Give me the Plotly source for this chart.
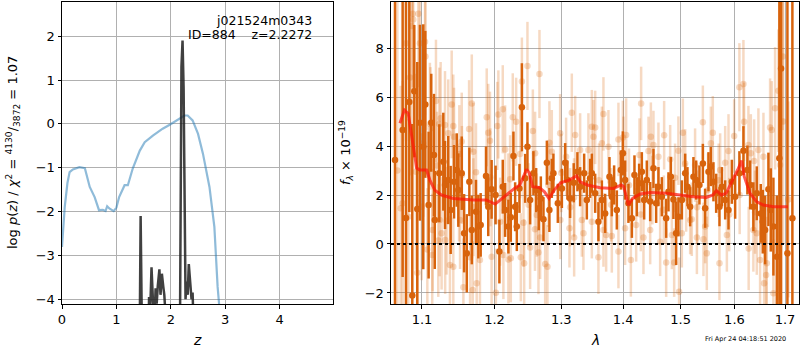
import plotly.graph_objects as go

# ---------------- left panel: p(z) ----------------
Z_BLUE = [0.00, 0.05, 0.10, 0.14, 0.20, 0.32, 0.42, 0.51, 0.60, 0.65,
          0.68, 0.75, 0.80, 0.83, 0.87, 0.95, 1.00, 1.05, 1.15, 1.21,
          1.30, 1.43, 1.52, 1.67, 1.76, 1.85, 1.98, 2.10, 2.25, 2.31,
          2.40, 2.50, 2.59, 2.71, 2.80, 2.86, 2.89, 2.92]
LOGP_BLUE = [-2.81, -1.90, -1.35, -1.10, -1.04, -0.99, -1.01, -1.44, -1.67, -1.86,
             -1.97, -1.96, -1.99, -1.88, -1.93, -1.99, -1.91, -1.67, -1.40, -1.40,
             -1.02, -0.61, -0.42, -0.27, -0.19, -0.11, -0.02, 0.08, 0.19, 0.19,
             0.08, -0.23, -0.68, -1.44, -2.35, -3.72, -4.10, -4.60]

Z_DARK = [1.40, 1.43, 1.445, 1.46, 1.48, 1.57, 1.59, 1.60, 1.62, 1.645,
          1.67, 1.70, 1.72, 1.74, 1.76, 1.79, 1.81, 1.835, 1.86, 1.88,
          1.90, 1.94, 2.15, 2.17, 2.195, 2.215, 2.235, 2.255, 2.27, 2.29,
          2.31, 2.33, 2.36, 2.38, 2.40, 2.42, 2.45]
LOGP_DARK = [-6.0, -4.5, -2.10, -4.5, -6.0, -6.0, -4.0, -3.95, -4.3, -3.27,
             -4.0, -4.5, -3.75, -4.1, -3.7, -3.32, -3.9, -3.42, -3.7, -3.9,
             -4.3, -6.0, -6.0, -4.2, 1.30, 1.90, 0.80, -3.5, -4.0, -3.6,
             -3.9, -3.20, -3.7, -4.0, -3.85, -4.3, -6.0]

Z_TICKS = [0, 1, 2, 3, 4]
LOGP_TICKS = [-4, -3, -2, -1, 0, 1, 2]

# ---------------- right panel: spectrum ----------------
DARK_WAVE = [1.0650, 1.0748, 1.0791, 1.0834, 1.0873, 1.0899, 1.0938, 1.0973, 1.1017, 1.1044,
             1.1088, 1.1123, 1.1159, 1.1170, 1.1231, 1.1285, 1.1308, 1.1352, 1.1385, 1.1431,
             1.1468, 1.1490, 1.1537, 1.1570, 1.1607, 1.1643, 1.1677, 1.1736, 1.1769, 1.1802,
             1.1878, 1.1910, 1.1958, 1.2015, 1.2070, 1.2119, 1.2153, 1.2201, 1.2236, 1.2275,
             1.2300, 1.2325, 1.2364, 1.2400, 1.2449, 1.2483, 1.2523, 1.2573, 1.2614, 1.2654,
             1.2685, 1.2725, 1.2777, 1.2816, 1.2853, 1.2878, 1.2946, 1.3009, 1.3060, 1.3096,
             1.3138, 1.3195, 1.3254, 1.3297, 1.3361, 1.3404, 1.3457, 1.3485, 1.3539, 1.3592,
             1.3648, 1.3702, 1.3773, 1.3812, 1.3850, 1.3895, 1.3962, 1.3996, 1.4034, 1.4090,
             1.4148, 1.4192, 1.4233, 1.4272, 1.4318, 1.4358, 1.4404, 1.4462, 1.4519, 1.4566,
             1.4606, 1.4666, 1.4742, 1.4783, 1.4825, 1.4871, 1.4919, 1.4960, 1.5022, 1.5082,
             1.5123, 1.5172, 1.5232, 1.5282, 1.5342, 1.5405, 1.5447, 1.5509, 1.5553, 1.5602,
             1.5653, 1.5715, 1.5761, 1.5823, 1.5886, 1.5950, 1.6013, 1.6095, 1.6173, 1.6250,
             1.6303, 1.6367, 1.6434, 1.6513, 1.6553, 1.6599, 1.6665, 1.6712, 1.6765, 1.6834,
             1.6885, 1.6920, 1.7049, 1.7151]
DARK_FLUX = [3.43, 4.65, 1.06, 5.80, -2.10, 6.24, 1.43, 4.95, 3.97, 5.70,
             1.59, 4.95, 3.63, 0.98, 2.89, 3.36, 2.41, 2.61, 1.39, 2.54,
             3.02, 2.20, 2.89, 0.44, -0.38, 2.54, 0.57, 1.32, 0.71, 0.78,
             2.78, 1.52, 2.23, 2.00, -0.31, 2.34, 1.39, 0.71, 1.09, 3.59,
             1.52, 0.71, 2.27, 5.58, 2.68, 3.97, 1.80, 2.89, 2.20, 1.46,
             1.86, 1.01, 3.32, 1.39, 2.68, 2.89, 1.66, 2.27, 3.32, 2.61,
             1.86, 2.50, 2.95, 2.34, 2.89, 1.80, 2.68, 2.89, 2.07, 0.91,
             1.80, 1.25, 2.75, 1.93, 2.41, 1.39, 3.02, 3.70, 2.61, 1.66,
             1.05, 2.82, 1.93, 2.48, 2.95, 1.80, 2.61, 1.73, 3.09, 1.66,
             2.34, 1.93, 1.05, 2.13, 2.75, 1.82, 0.44, 1.11, 1.80, 2.89,
             2.34, 1.52, 2.75, 2.61, 2.41, 3.29, 1.46, 2.95, 3.16, 2.54,
             2.07, 1.52, 2.34, 1.80, 1.39, 2.54, 1.93, 2.89, 3.81, 3.02,
             2.41, 1.52, 2.07, 1.25, 0.91, 0.57, 2.23, 1.39, 0.71, -0.52,
             3.50, 7.17, -0.38, 1.05]
DARK_ERR = [10, 6, 9, 4.5, 7, 2.7, 6, 4, 5, 3,
            3, 2, 2.5, 2, 2, 2, 1.8, 1.8, 1.8, 1.5,
            1.5, 1.5, 1.5, 1.6, 1.6, 1.4, 1.4, 1.3, 1.3, 1.3,
            1.2, 1.2, 1.2, 1.2, 1.3, 1.1, 1.1, 1.1, 1.0, 1.0,
            1.0, 1.0, 1.0, 1.8, 1.0, 1.0, 1.0, 0.9, 0.9, 0.9,
            0.9, 0.9, 0.9, 0.9, 0.8, 0.8, 0.8, 0.8, 0.8, 0.8,
            0.8, 0.8, 0.8, 0.8, 0.8, 0.8, 0.8, 0.8, 0.8, 0.8,
            0.8, 0.8, 0.8, 0.8, 0.8, 0.8, 0.8, 0.9, 0.8, 0.8,
            0.8, 0.8, 0.8, 0.8, 0.8, 0.8, 0.8, 0.8, 0.8, 0.8,
            0.8, 0.8, 0.8, 0.8, 0.8, 0.8, 1.3, 0.8, 0.8, 0.8,
            0.8, 0.8, 0.8, 0.8, 0.8, 0.8, 0.8, 0.8, 0.8, 0.8,
            0.8, 0.8, 0.8, 0.8, 0.8, 0.9, 0.9, 0.9, 1.0, 1.0,
            1.0, 1.0, 1.1, 1.2, 1.3, 1.4, 1.5, 1.7, 2.0, 2.5,
            8, 12, 12, 12]

LIGHT_WAVE = [1.0879, 1.0952, 1.0886, 1.0866, 1.0791, 1.0973, 1.1040, 1.1046, 1.0843, 1.1186,
              1.1399, 1.1677, 1.1888, 1.1249, 1.1105, 1.1231, 1.1308, 1.1421, 1.1112, 1.1639,
              1.1352, 1.1910, 1.1431, 1.1935, 1.1537, 1.1017, 1.1699, 1.1504, 1.0921, 1.1736,
              1.1540, 1.1940, 1.0748, 1.0722, 1.0821, 1.0996, 1.1235, 1.1330, 1.1514, 1.1141,
              1.1262, 1.1217, 1.1310, 1.1071, 1.1136, 1.1653, 1.1792, 1.1958, 1.1375, 1.1421,
              1.0938, 1.1746, 1.1560, 1.1690, 1.2483, 1.2664, 1.2400, 1.2119, 1.2055, 1.2265,
              1.2315, 1.2040, 1.2564, 1.2982, 1.3165, 1.3218, 1.3511, 1.3485, 1.2153, 1.2374,
              1.2598, 1.2816, 1.2853, 1.3297, 1.3430, 1.2226, 1.3075, 1.3138, 1.2080, 1.2424,
              1.2624, 1.2596, 1.2674, 1.2985, 1.3128, 1.3324, 1.3350, 1.3202, 1.2128, 1.2201,
              1.2236, 1.2384, 1.2434, 1.2523, 1.2649, 1.2751, 1.2786, 1.2020, 1.4306, 1.3674,
              1.3539, 1.3648, 1.3756, 1.3922, 1.4051, 1.3996, 1.4474, 1.4519, 1.4706, 1.5040,
              1.4278, 1.4433, 1.4606, 1.4813, 1.4960, 1.5082, 1.4005, 1.3485, 1.3674, 1.3718,
              1.3812, 1.3592, 1.3922, 1.4034, 1.4221, 1.4346, 1.4462, 1.4636, 1.4843, 1.5022,
              1.5172, 1.4131, 1.4742, 1.4884, 1.4972, 1.6173, 1.6095, 1.6865, 1.6955, 1.6799,
              1.6186, 1.5405, 1.6698, 1.6732, 1.5590, 1.5994, 1.5553, 1.6270, 1.5886, 1.6317,
              1.6466, 1.6566, 1.6382, 1.6899, 1.5262, 1.5823, 1.5728, 1.7068, 1.5202, 1.5447,
              1.5295, 1.5416, 1.5855, 1.6275, 1.6367, 1.6434, 1.6499, 1.6632, 1.6619, 1.6579,
              1.5478, 1.5715, 1.6765, 1.1200, 1.1500, 1.1700, 1.2200, 1.2500, 1.2800, 1.3000,
              1.3200, 1.3600, 1.3800, 1.4100, 1.4300, 1.4500, 1.4700, 1.4900, 1.5100, 1.5300,
              1.5500, 1.5700, 1.5900, 1.6100, 1.6400, 1.6960, 1.0680]
LIGHT_FLUX = [9.40, 9.40, 9.17, 8.90, 8.20, 8.20, 8.26, 7.65, 6.80, 5.84,
              5.70, 5.74, 5.17, 5.13, 4.90, 4.90, 4.86, 4.82, 4.72, 4.69,
              4.52, 4.54, 4.38, 4.22, 4.18, 4.11, 3.77, 3.67, 2.95, 2.93,
              2.82, 2.72, 1.66, 1.46, 1.11, 1.52, 0.98, 0.95, 0.98, 0.57,
              0.44, 0.14, 0.16, -0.22, -0.45, -0.54, -0.65, -0.52, -0.86, -0.93,
              -1.17, -1.60, -1.77, -1.88, 7.27, 6.94, 6.63, 5.50, 5.29, 5.17,
              4.99, 4.82, 4.61, 4.52, 5.36, 4.45, 4.38, 4.79, 3.86, 3.67,
              3.70, 4.13, 3.77, 3.84, 3.84, 2.64, 3.56, 1.50, 0.91, 0.87,
              1.18, 0.60, 0.27, 0.98, 0.64, 0.98, 0.44, 0.27, -0.45, -0.63,
              -0.58, -0.54, -0.79, -0.14, -0.35, -0.82, -0.93, -1.99, 5.74, 5.31,
              4.76, 4.11, 3.97, 4.27, 4.45, 4.35, 4.38, 4.04, 4.44, 4.54,
              3.63, 3.80, 3.56, 3.46, 3.81, 3.29, 3.70, 0.91, 0.57, 0.37,
              0.33, -0.54, -0.31, 0.64, 0.78, 0.27, 0.57, 0.09, 0.37, 0.44,
              0.98, -0.65, -0.76, -0.76, -1.95, 6.53, 6.40, 6.26, 7.65, 5.54,
              4.99, 4.97, 4.76, 4.65, 4.54, 4.41, 4.11, 4.04, 3.80, 3.70,
              3.84, 3.56, 3.39, 3.22, 3.22, 3.32, 3.02, 1.82, 1.01, 0.71,
              0.27, 0.19, 0.37, -0.18, 0.57, 0.44, -0.65, -0.79, -1.27, -1.60,
              -0.38, -0.79, -2.01, 3.20, 2.10, 1.50, 1.90, 1.60, 2.40, 2.90,
              1.90, 2.60, 1.60, 2.40, 1.20, 2.20, 1.40, 2.70, 1.90, 1.50,
              2.20, 2.60, 1.20, 2.00, 1.30, 5.00, 3.00]
LIGHT_ERR = [3.0, 3.0, 3.0, 4.0, 4.0, 3.0, 3.0, 3.0, 4.0, 2.5,
             2.2, 2.0, 2.0, 2.3, 2.5, 2.3, 2.2, 2.1, 2.5, 2.0,
             2.2, 2.0, 2.0, 2.0, 2.0, 3.0, 2.0, 2.0, 4.0, 2.0,
             2.0, 2.0, 5.0, 5.0, 4.0, 3.0, 2.3, 2.2, 2.0, 2.5,
             2.3, 2.3, 2.2, 2.5, 2.5, 2.0, 2.0, 2.0, 2.0, 2.0,
             3.0, 2.0, 2.0, 2.0, 1.8, 1.8, 1.8, 1.8, 1.8, 1.8,
             1.8, 1.8, 1.7, 1.6, 1.6, 1.6, 1.5, 1.5, 1.8, 1.8,
             1.7, 1.7, 1.7, 1.5, 1.5, 1.8, 1.6, 1.6, 1.8, 1.8,
             1.7, 1.7, 1.7, 1.6, 1.6, 1.5, 1.5, 1.6, 1.8, 1.8,
             1.8, 1.8, 1.8, 1.7, 1.7, 1.7, 1.7, 1.8, 1.5, 1.5,
             1.5, 1.5, 1.5, 1.5, 1.5, 1.5, 1.4, 1.4, 1.4, 1.4,
             1.5, 1.4, 1.4, 1.4, 1.4, 1.4, 1.5, 1.5, 1.5, 1.5,
             1.5, 1.5, 1.5, 1.5, 1.5, 1.5, 1.4, 1.4, 1.4, 1.4,
             1.4, 1.5, 1.4, 1.4, 1.4, 1.8, 1.8, 2.5, 3.0, 2.5,
             1.6, 1.5, 2.0, 2.0, 1.5, 1.5, 1.5, 1.6, 1.5, 1.6,
             1.7, 1.8, 1.7, 3.0, 1.5, 1.5, 1.5, 4.0, 1.5, 1.5,
             1.5, 1.5, 1.5, 1.7, 1.7, 1.7, 1.8, 1.9, 2.0, 2.0,
             1.5, 1.5, 2.2, 2.2, 2.0, 2.0, 1.8, 1.7, 1.7, 1.6,
             1.6, 1.5, 1.5, 1.5, 1.5, 1.4, 1.4, 1.4, 1.4, 1.5,
             1.5, 1.5, 1.5, 1.6, 1.7, 5.0, 7.0]

MODEL_WAVE = [1.0713, 1.0770, 1.0820, 1.0870, 1.0930, 1.0970, 1.1060, 1.1105, 1.1170, 1.1260,
              1.1420, 1.1700, 1.1880, 1.2010, 1.2080, 1.2170, 1.2290, 1.2370, 1.2470, 1.2510,
              1.2560, 1.2660, 1.2740, 1.2810, 1.2890, 1.2990, 1.3120, 1.3240, 1.3300, 1.3410,
              1.3620, 1.3840, 1.3970, 1.4010, 1.4090, 1.4160, 1.4290, 1.4460, 1.4750, 1.4990,
              1.5230, 1.5470, 1.5590, 1.5660, 1.5750, 1.5840, 1.5970, 1.6060, 1.6140, 1.6190,
              1.6300, 1.6430, 1.6560, 1.6770, 1.7060]
MODEL_FLUX = [4.93, 5.47, 5.33, 4.24, 3.10, 3.02, 3.02, 2.61, 2.20, 2.00,
              1.86, 1.80, 1.80, 1.63, 1.80, 2.00, 2.27, 2.41, 3.05, 2.90,
              2.34, 2.31, 2.13, 1.86, 2.20, 2.50, 2.61, 2.78, 2.54, 2.41,
              2.30, 2.27, 2.41, 2.34, 1.59, 1.86, 2.04, 2.10, 2.07, 2.00,
              1.93, 1.90, 2.00, 2.18, 2.00, 2.07, 2.61, 3.02, 3.40, 2.75,
              2.07, 1.73, 1.59, 1.52, 1.52]

WAVE_TICKS = [1.1, 1.2, 1.3, 1.4, 1.5, 1.6, 1.7]
FLUX_TICKS = [-2, 0, 2, 4, 6, 8]

n = min(len(DARK_WAVE), len(DARK_FLUX), len(DARK_ERR))
m = min(len(LIGHT_WAVE), len(LIGHT_FLUX), len(LIGHT_ERR))

ORANGE = "#d8630c"
LIGHT = "rgba(217,95,2,0.24)"
FONT = "DejaVu Sans"

W, H = 800, 350


def px(p):
    return p / W


def py(p):
    return 1 - p / H


fig = go.Figure()
fig.add_trace(go.Scatter(x=Z_BLUE, y=LOGP_BLUE, mode="lines", xaxis="x", yaxis="y",
                         line=dict(color="rgba(31,119,180,0.5)", width=2.2), showlegend=False))
fig.add_trace(go.Scatter(x=Z_DARK, y=LOGP_DARK, mode="lines", xaxis="x", yaxis="y",
                         line=dict(color="rgba(30,30,30,0.85)", width=2.5), showlegend=False))

fig.add_trace(go.Scatter(x=LIGHT_WAVE[:m], y=LIGHT_FLUX[:m], mode="markers", xaxis="x2", yaxis="y2",
                         marker=dict(color=LIGHT, size=6.5, line=dict(width=0)),
                         error_y=dict(type="data", array=LIGHT_ERR[:m], color=LIGHT, thickness=2.5, width=0),
                         showlegend=False))
fig.add_trace(go.Scatter(x=DARK_WAVE[:n], y=DARK_FLUX[:n], mode="markers", xaxis="x2", yaxis="y2",
                         marker=dict(color=ORANGE, size=6.5, line=dict(width=0)),
                         error_y=dict(type="data", array=DARK_ERR[:n], color=ORANGE, thickness=2.5, width=0),
                         showlegend=False))
fig.add_trace(go.Scatter(x=MODEL_WAVE, y=MODEL_FLUX, mode="lines", xaxis="x2", yaxis="y2",
                         line=dict(color="rgba(255,20,10,0.7)", width=3), showlegend=False))

axis_common = dict(showline=True, mirror=True, linecolor="black", linewidth=1,
                   ticks="outside", ticklen=3.5, tickcolor="black", tickwidth=1,
                   showgrid=True, gridcolor="#b0b0b0", gridwidth=1, zeroline=False,
                   tickfont=dict(family=FONT, size=13, color="black"), automargin=False)

ytop = py(2)
ybot = py(304)
fig.update_layout(
    width=W, height=H, margin=dict(l=0, r=0, t=0, b=0),
    paper_bgcolor="white", plot_bgcolor="white",
    font=dict(family=FONT, size=13, color="black"),
    xaxis=dict(domain=[px(62), px(333)], range=[0, 4.98], tickvals=Z_TICKS,
               anchor="y", **axis_common),
    yaxis=dict(domain=[ybot, ytop], range=[-4.11, 2.78], tickvals=LOGP_TICKS,
               anchor="x", **axis_common),
    xaxis2=dict(domain=[px(391), px(799)], type="log", range=[0.02526, 0.23773],
                tickvals=WAVE_TICKS, ticktext=[f"{v:.1f}" for v in WAVE_TICKS],
                anchor="y2", **axis_common),
    yaxis2=dict(domain=[ybot, ytop], range=[-2.45, 9.88], tickvals=FLUX_TICKS,
                anchor="x2", **axis_common),
    shapes=[dict(type="line", xref="x2 domain", yref="y2", x0=0, x1=1, y0=0, y1=0,
                 line=dict(color="black", width=2, dash="dot"), layer="above")],
    annotations=[
        dict(text="j021524m0343", xref="paper", yref="paper", x=px(314), y=py(20),
             xanchor="right", yanchor="middle", showarrow=False, font=dict(size=12.5)),
        dict(text="ID=884\u00a0\u00a0\u00a0\u00a0z=2.2272", xref="paper", yref="paper",
             x=px(314), y=py(35), xanchor="right", yanchor="middle",
             showarrow=False, font=dict(size=12.5)),
        dict(text="<i>z</i>", xref="paper", yref="paper", x=px(197), y=py(340),
             xanchor="center", yanchor="middle", showarrow=False, font=dict(size=14)),
        dict(text="<i>λ</i>", xref="paper", yref="paper", x=px(595), y=py(340),
             xanchor="center", yanchor="middle", showarrow=False, font=dict(size=14)),
        dict(text="log <i>p</i>(<i>z</i>) / <i>χ</i><sup>2</sup> = <sup>4130</sup>/<sub>3872</sub> = 1.07",
             xref="paper", yref="paper", x=px(13), y=py(153), textangle=-90,
             xanchor="center", yanchor="middle", showarrow=False, font=dict(size=13)),
        dict(text="<i>f</i><sub><i>λ</i></sub> × 10<sup>−19</sup>",
             xref="paper", yref="paper", x=px(346), y=py(153), textangle=-90,
             xanchor="center", yanchor="middle", showarrow=False, font=dict(size=13)),
        dict(text="Fri Apr 24 04:18:51 2020", xref="paper", yref="paper",
             x=px(788), y=py(339), xanchor="right", yanchor="middle",
             showarrow=False, font=dict(size=6.5)),
    ],
)

# remove the browser's default 8px body margin so the 800x350 figure fills the window
fig.write_html("out.html", config={"displayModeBar": False},
               post_script="document.body.style.margin='0';document.body.style.overflow='hidden';")
